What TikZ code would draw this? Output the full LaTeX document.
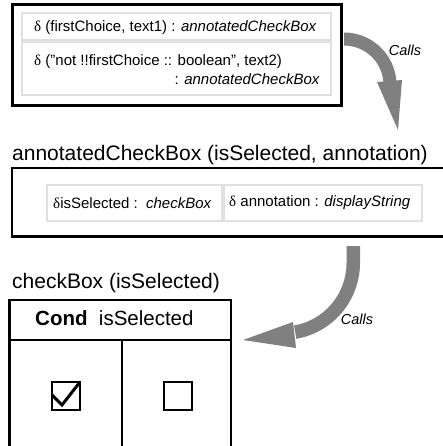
\documentclass[tikz,border=0pt]{standalone}
\usepackage{fontspec}
\usetikzlibrary{calc}
\setmainfont{Liberation Sans}
\newfontfamily\dfont{Liberation Serif}
\begin{document}
\begin{tikzpicture}[x=1pt,y=-1pt,
  boxtxt/.style={inner sep=0pt,font=\fontsize{15}{18}\selectfont},
  titletxt/.style={inner sep=0pt,font=\fontsize{21}{25}\selectfont},
  callstxt/.style={inner sep=0pt,font=\fontsize{14.5}{17}\selectfont\itshape},
  outerbox/.style={draw=black,line width=3pt},
  tablebox/.style={draw=black,line width=2.5pt},
  cellbox/.style={draw=black!12,line width=2pt},
  callfill/.style={fill=black!50},
  cbox/.style={draw=black,line width=2pt,minimum width=28pt,minimum height=28pt,inner sep=0pt,outer sep=0pt}]
\useasboundingbox (0,0) rectangle (443,446);
\clip (0,0) rectangle (443,446);
% box 1
\draw[outerbox] (12,5) rectangle (341,106);
\node[cellbox,minimum width=309pt,minimum height=27pt,outer sep=0pt,anchor=north west] (c11) at (22,13) {};
\node[cellbox,minimum width=309pt,minimum height=53pt,outer sep=0pt,anchor=north west] (c12) at (22,42) {};
\node[boxtxt,anchor=west] (t11) at (34,28) {{\dfont δ} (firstChoice, text1) : \textit{annotatedCheckBox}};
\node[boxtxt,anchor=west] (t12) at (34,62) {{\dfont δ} ("not !!firstChoice :: boolean", text2)};
\node[boxtxt,anchor=east] (t13) at (320,79) {: \textit{annotatedCheckBox}};
% arrow 1 (filled band + head)
\coordinate (a1s) at (344,32.5);
\fill[callfill] (a1s) arc[start angle=-90,end angle=0,radius=52.5] -- (383.5,85)
   arc[start angle=0,end angle=-90,radius=39.5] -- cycle;
\coordinate (a1t) at (398,130);
\fill[callfill] (377,82) -- (402,80) -- (a1t) -- cycle;
\node[callstxt] (calls1) at (405,50) {Calls};
% title 2
\node[titletxt,anchor=west] (title2) at (12,155) {annotatedCheckBox (isSelected, annotation)};
% box 2
\draw[outerbox,line width=2.5pt] (460,168) -- (12,168) -- (12,236.5) -- (460,236.5);
\node[cellbox,minimum width=175pt,minimum height=35pt,outer sep=0pt,anchor=north west] (c21) at (47,185.5) {};
\node[cellbox,minimum width=198pt,minimum height=35pt,outer sep=0pt,anchor=north west] (c22) at (224,185.5) {};
\node[boxtxt,anchor=west] (t21) at (53,203) {{\dfont δ}isSelected :\ \ \textit{checkBox}};
\node[boxtxt,anchor=west] (t22) at (229,203) {{\dfont δ} annotation : \textit{displayString}};
% arrow 2 (filled band + head)
\coordinate (a2s) at (360,246);
\fill[callfill] (a2s) -- (360,263) arc[start angle=0,end angle=80,radius=77]
   -- ($(283,263)+(80:63.5)$) arc[start angle=80,end angle=0,radius=63.5] -- (346.5,246) -- cycle;
\coordinate (a2t) at (243,340);
\fill[callfill] (293,322) -- (296,348) -- (a2t) -- cycle;
\node[callstxt] (calls2) at (357,319) {Calls};
% title 3
\node[titletxt,anchor=west] (title3) at (12,283) {checkBox (isSelected)};
% table
\draw[tablebox] (9.5,470) -- (9.5,300) -- (231,300) -- (231,470);
\draw[tablebox] (9.5,340) -- (231,340);
\draw[tablebox] (122,340) -- (122,470);
\node[inner sep=0pt,anchor=west,font=\fontsize{20.5}{24}\selectfont] (hdr) at (35,318) {\textbf{Cond}\ \ isSelected};
% checkboxes
\node[cbox] (cb1) at (66,396) {};
\node[cbox] (cb2) at (177.5,396) {};
\draw[line width=3pt] (52,395) -- (62,405) -- (cb1.north east);
\end{tikzpicture}
\end{document}
